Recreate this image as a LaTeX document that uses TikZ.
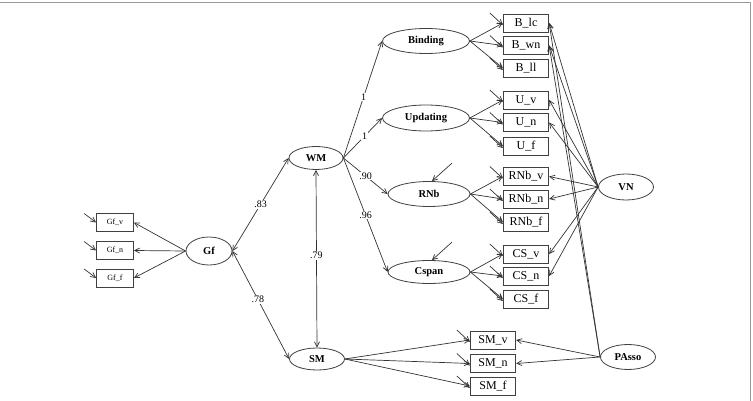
\documentclass[tikz,border=0pt]{standalone}
\usepackage{fontspec}
\setmainfont{Liberation Serif}
\usetikzlibrary{arrows.meta,shapes.geometric,calc}
\begin{document}
\begin{tikzpicture}[x=1pt,y=-1pt,
 line/.style={draw=black!80,line width=0.7pt},
 arr/.style={line,-{Straight Barb[length=5pt,width=5pt]}},
 darr/.style={line,{Straight Barb[length=5pt,width=5pt]}-{Straight Barb[length=5pt,width=5pt]}},
 ind/.style={draw=black!75,line width=0.8pt,minimum width=45.5pt,minimum height=18pt,inner sep=0pt,font=\fontsize{12}{12}\selectfont},
 gfind/.style={ind,minimum width=37pt,font=\fontsize{8}{8}\selectfont},
 lat/.style={ellipse,draw=black!75,line width=0.8pt,inner sep=0pt,font=\bfseries\fontsize{10.5}{10.5}\selectfont},
 coef/.style={fill=white,inner sep=1pt,font=\fontsize{10}{10}\selectfont},
]
\useasboundingbox (0,0) rectangle (753,401);
\draw[black!40,line width=1pt] (0,3) -- (750,3) -- (750,401);

% latent variables
\node[lat,minimum width=46pt,minimum height=28pt] (gf) at (209,251) {Gf};
\node[lat,minimum width=54pt,minimum height=23pt] (wm) at (316,158) {WM};
\node[lat,minimum width=55pt,minimum height=22pt] (sm) at (317,359) {SM};
\node[lat,minimum width=87pt,minimum height=25pt] (bind) at (426,41) {Binding};
\node[lat,minimum width=87pt,minimum height=26pt] (upd) at (426,118) {Updating};
\node[lat,minimum width=82pt,minimum height=25pt] (rnb) at (429,194) {RNb};
\node[lat,minimum width=82pt,minimum height=23pt] (csp) at (429,272) {Cspan};
\node[lat,minimum width=55pt,minimum height=26pt] (vn) at (626,187) {VN};
\node[lat,minimum width=55pt,minimum height=25pt] (pa) at (628,357) {PAsso};

% Gf indicators
\node[gfind] (gfv) at (115,222.5) {Gf\_v};
\node[gfind] (gfn) at (115,250.5) {Gf\_n};
\node[gfind] (gff) at (115,278) {Gf\_f};

% WM indicators
\node[ind] (blc) at (526,23) {B\_lc};
\node[ind] (bwn) at (526,45.5) {B\_wn};
\node[ind] (bll) at (526,68) {B\_ll};
\node[ind] (uv) at (526,100) {U\_v};
\node[ind] (un) at (526,122.5) {U\_n};
\node[ind] (uf) at (526,146) {U\_f};
\node[ind] (rv) at (526,176.5) {RNb\_v};
\node[ind] (rn) at (526,199) {RNb\_n};
\node[ind] (rf) at (526,222) {RNb\_f};
\node[ind] (cv) at (526,254) {CS\_v};
\node[ind] (cn) at (526,276) {CS\_n};
\node[ind] (cf) at (526,299) {CS\_f};

% SM indicators
\node[ind] (smv) at (493,340) {SM\_v};
\node[ind] (smn) at (493,363.5) {SM\_n};
\node[ind] (smf) at (493,386) {SM\_f};

% Gf loadings
\foreach \b in {gfv,gfn,gff} {
  \draw[arr] (gf.west) -- (\b.east);
  \draw[arr] ($(\b.west)+(-12,-9)$) -- (\b.west);
}

% second order
\draw[darr] (gf.east) -- node[coef] {.83} (wm.west);
\draw[darr] (gf.east) -- node[coef,pos=0.45] {.78} (sm.west);
\draw[darr] (wm.south) -- node[coef,pos=0.48] {.79} (sm.north);

\draw[arr] (wm.east) -- node[coef,pos=0.52] {1} (bind.west);
\draw[arr] (wm.east) -- node[coef,pos=0.55] {1} (upd.west);
\draw[arr] (wm.east) -- node[coef,pos=0.5] {.90} (rnb.west);
\draw[arr] (wm.east) -- node[coef,pos=0.5] {.96} (csp.west);

% disturbances
\draw[arr] ($(rnb.north)+(23,-18)$) -- ([xshift=3pt]rnb.north);
\draw[arr] ($(csp.north)+(23,-18)$) -- ([xshift=3pt]csp.north);

% first order loadings
\foreach \f/\a/\b/\c in {bind/blc/bwn/bll, upd/uv/un/uf, rnb/rv/rn/rf, csp/cv/cn/cf, sm/smv/smn/smf} {
  \draw[arr] (\f.east) -- (\a.west);
  \draw[arr] (\f.east) -- (\b.west);
  \draw[arr] (\f.east) -- (\c.west);
}
% residuals
\foreach \b in {blc,bwn,bll,uv,un,uf,rv,rn,rf,cv,cn,cf,smv,smn,smf} {
  \draw[arr] ($(\b.west)+(-13,-10)$) -- ([yshift=-2pt]\b.west);
}

% method factors
\foreach \b in {blc,bwn,uv,un,rv,rn,cv,cn} {
  \draw[arr] (vn.west) -- (\b.east);
}
\foreach \b in {blc,bwn,smv,smn} {
  \draw[arr] (pa.west) -- (\b.east);
}
\end{tikzpicture}
\end{document}
